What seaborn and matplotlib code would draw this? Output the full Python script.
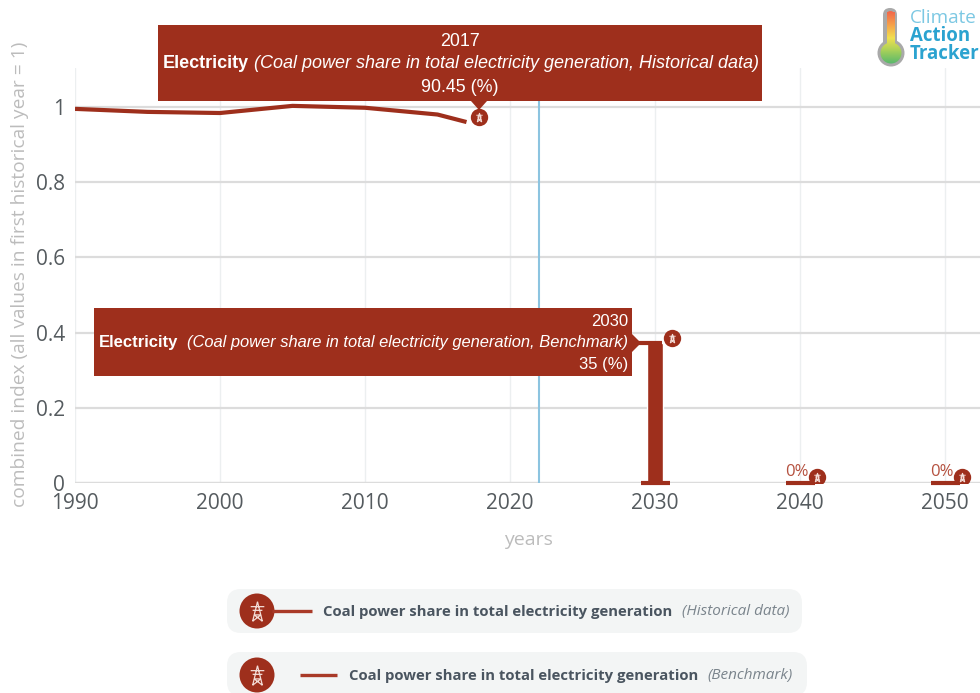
import numpy as np
import pandas as pd
import matplotlib
matplotlib.use("Agg")
import matplotlib.pyplot as plt
import seaborn as sns
from matplotlib.colors import LinearSegmentedColormap
from matplotlib.patches import FancyBboxPatch, Circle, Polygon, Rectangle, PathPatch
from matplotlib.path import Path
from matplotlib.transforms import ScaledTranslation

hist_years = [1990, 1995, 2000, 2005, 2010, 2015, 2017]
hist_index = [0.995, 0.987, 0.984, 1.003, 0.998, 0.980, 0.960]
bench_years = [2030, 2040, 2050]
bench_index = [0.372, 0.0, 0.0]
bench_labels = ["", "0%", "0%"]
now_year = 2022
x_ticks = [1990, 2000, 2010, 2020, 2030, 2040, 2050]
y_ticks = [0, 0.2, 0.4, 0.6, 0.8, 1]
y_ticklabels = ["0", "0.2", "0.4", "0.6", "0.8", "1"]
series_name = "Coal power share in total electricity generation"
hist_tag = "(Historical data)"
bench_tag = "(Benchmark)"

RED = "#9e2f1c"
W, H = 980, 693
sns.set_theme(style="white")
plt.rcParams["font.family"] = ["Open Sans", "DejaVu Sans"]

fig = plt.figure(figsize=(W / 100, H / 100), dpi=100, facecolor="white")
ax = fig.add_axes([75 / W, 1 - 483 / H, (W - 75) / W, (483 - 68) / H])
ax.set_xlim(1990, 1990 + (W - 75) / 14.5)
ax.set_ylim(0, 415 / 376)

# tower glyph used as a marker
tv = [(0, 1), (-.5, -1), (0, 1), (.5, -1), (-.7, .5), (.7, .5), (-.5, .12), (.5, .12),
      (-.34, -.35), (.34, -.35), (-.5, -1), (.34, -.35), (.5, -1), (-.34, -.35)]
tc = [Path.MOVETO, Path.LINETO] * 7
TOWER = Path(tv, tc)

# grid
ax.set_axisbelow(True)
ax.grid(axis="y", color="#dcdcdc", lw=1.6)
ax.grid(axis="x", color="#eceff0", lw=1.0)
for s in ax.spines.values():
    s.set_visible(False)
ax.axhline(0, color="#dcdcdc", lw=1.6, zorder=1)
ax.axvline(now_year, color="#8cc4e0", lw=1.5, zorder=2.5)

# data
hist_df = pd.DataFrame({"year": hist_years, "index": hist_index})
bench_df = pd.DataFrame({"year": bench_years, "index": bench_index})
sns.lineplot(data=hist_df, x="year", y="index", color=RED, lw=3, ax=ax, zorder=3,
             solid_capstyle="butt")
sns.barplot(data=bench_df, x="year", y="index", native_scale=True, width=0.104,
            color=RED, saturation=1, ax=ax, zorder=3)
ax.hlines([0] * len(bench_years), np.array(bench_years) - 1, np.array(bench_years) + 1,
          color=RED, lw=3, zorder=3.2, clip_on=False)
ax.hlines(bench_index[0], bench_years[0] - 1.6, bench_years[0] + 0.5, color=RED, lw=3, zorder=3.2)


def icon(xs, ys, dx, dy):
    tr = ax.transData + ScaledTranslation(dx / 100, dy / 100, fig.dpi_scale_trans)
    ax.plot(xs, ys, "o", ms=12.5, color=RED, mew=0, transform=tr, zorder=4)
    ax.plot(xs, ys, ls="", marker=TOWER, ms=6.5, mfc="none", mec="#f3dcd6", mew=0.7,
            transform=tr, zorder=5)


icon(hist_years[-1:], hist_index[-1:], 12, 5)
icon(bench_years[:1], bench_index[:1], 17, 5)
icon(bench_years[1:], bench_index[1:], 17, 6)
for yr, v, lab in zip(bench_years, bench_index, bench_labels):
    if lab:
        ax.annotate(lab, (yr, v), xytext=(-2, 2.5), textcoords="offset points", ha="center",
                    va="bottom", color="#b5513f", fontsize=12, zorder=6)

# axes text
ax.set_xticks(x_ticks)
ax.set_yticks(y_ticks, y_ticklabels)
ax.tick_params(axis="both", length=0, labelsize=15, labelcolor="#555b5f")
ax.tick_params(axis="x", pad=7)
ax.tick_params(axis="y", pad=7)
ax.set_xlabel("")
ax.set_ylabel("")

# pixel overlay for tooltips, legend, logo and axis titles
ov = fig.add_axes([0, 0, 1, 1], zorder=10)
ov.set_xlim(0, W)
ov.set_ylim(H, 0)
ov.axis("off")
ov.patch.set_alpha(0)

ov.text(20, 274, "combined index (all values in first historical year = 1)", rotation=90,
        ha="center", va="center", color="#bcbcbc", fontsize=13.8)
ov.text(528, 540, "years", ha="center", va="center", color="#bcbcbc", fontsize=14)

TT = dict(color="white", family="Liberation Sans", va="center")
ov.add_patch(Rectangle((158, 25), 604, 76, fc=RED, ec="none"))
ov.add_patch(Polygon([(471, 101), (487, 101), (479, 110)], fc=RED, ec="none"))
ov.text(460, 41, "2017", ha="center", fontsize=12.9, **TT)
ov.text(163, 63, "Electricity", ha="left", weight="bold", fontsize=12.95, **TT)
ov.text(254, 63, "(Coal power share in total electricity generation, Historical data)",
        ha="left", style="italic", fontsize=12.95, **TT)
ov.text(460, 87, "90.45 (%)", ha="center", fontsize=12.9, **TT)

ov.add_patch(Rectangle((94, 308), 538, 68, fc=RED, ec="none"))
ov.add_patch(Polygon([(632, 334), (632, 352), (641, 343)], fc=RED, ec="none"))
ov.text(628, 321, "2030", ha="right", fontsize=12, **TT)
ov.text(99, 343, "Electricity", ha="left", weight="bold", fontsize=12, **TT)
ov.text(628, 343, "(Coal power share in total electricity generation, Benchmark)",
        ha="right", style="italic", fontsize=11.9, **TT)
ov.text(628, 364, "35 (%)", ha="right", fontsize=12, **TT)

# legend pills
for x0, y0, w, lx0, lx1, tx, tgx, tag in [
    (227, 589, 575, 272, 312, 323, 682, hist_tag),
    (227, 652, 580, 300, 337, 349, 707, bench_tag),
]:
    h = 44
    ym = y0 + 22 if y0 < 600 else y0 + 23
    ov.add_patch(FancyBboxPatch((x0 + 14, y0 + 14), w - 28, h - 28,
                                boxstyle="round,pad=14,rounding_size=14",
                                fc="#f3f5f5", ec="none", clip_on=True))
    ov.plot([lx0, lx1], [ym, ym], color="#a93a28", lw=2.4, solid_capstyle="butt")
    ov.add_patch(Circle((257, ym), 17.5, fc=RED, ec="none"))
    ov.plot([257], [ym], ls="", marker=TOWER, ms=14, mfc="none", mec="#f3dcd6", mew=0.9)
    ov.text(tx, ym + 1, series_name, ha="left", va="center", weight="bold", color="#4a5560",
            fontsize=10.75)
    ov.text(tgx, ym + 1, tag, ha="left", va="center", style="italic", color="#7a848c",
            fontsize=11)

# logo
ov.add_patch(FancyBboxPatch((883, 8), 14, 44, boxstyle="round,pad=0,rounding_size=7",
                            fc="#a9a9a9", ec="none"))
ov.add_patch(Circle((891, 53), 13.5, fc="#a9a9a9", ec="none"))
ov.add_patch(FancyBboxPatch((887, 11), 7, 40, boxstyle="round,pad=0,rounding_size=3.5",
                            fc="#f26a4b", ec="none"))
clip = Path.make_compound_path(Path.unit_rectangle().transformed(
    matplotlib.transforms.Affine2D().scale(8, 44).translate(887, 12)),
    Path.circle((891, 53), 10.5))
cmap = LinearSegmentedColormap.from_list(
    "thermo", ["#f26a4b", "#f6a34a", "#f1e04f", "#a6d05a", "#58b86c"])
im = ov.imshow(np.linspace(0, 1, 64)[:, None], cmap=cmap, extent=(878, 904, 64, 12),
               aspect="auto", zorder=2)
im.set_clip_path(PathPatch(clip, transform=ov.transData))
ov.set_xlim(0, W)
ov.set_ylim(H, 0)
ov.text(910, 18, "Climate", color="#7cc8e3", fontsize=13.6, ha="left", va="center")
ov.text(910, 36, "Action", color="#2ba3d0", fontsize=13.4, weight="bold", ha="left", va="center")
ov.text(910, 54, "Tracker", color="#2ba3d0", fontsize=13.4, weight="bold", ha="left", va="center")

fig.savefig("out.png", dpi=100)
